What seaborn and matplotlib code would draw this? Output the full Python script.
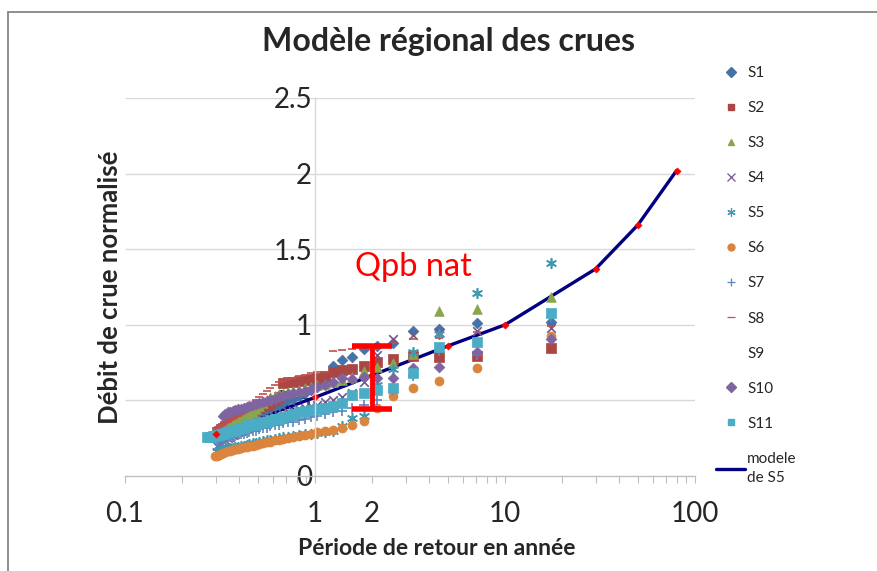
import matplotlib
matplotlib.use("Agg")
import matplotlib.pyplot as plt
import seaborn as sns
from matplotlib.lines import Line2D
from matplotlib.ticker import LogLocator, NullFormatter, FixedLocator, FixedFormatter

sns.set_theme(style="white")
plt.rcParams["font.family"] = ["Lato", "DejaVu Sans"]

# Return periods (years) of the ranked observations, shared by the stations
periods = [17.5, 7.14, 4.49, 3.27, 2.57, 2.12, 1.80, 1.57, 1.39, 1.25,
           1.13, 1.03, 0.951, 0.882, 0.822, 0.769, 0.723, 0.682, 0.646, 0.613,
           0.583, 0.556, 0.532, 0.509, 0.489, 0.470, 0.452, 0.436, 0.421, 0.406,
           0.393, 0.381, 0.369, 0.358, 0.348, 0.338, 0.329, 0.320, 0.312, 0.304,
           0.297, 0.290, 0.283, 0.277, 0.271]

s1 = [1.02, 1.014, 0.972, 0.959, 0.88, 0.86, 0.838, 0.79, 0.77, 0.73,
      0.64, 0.60, 0.57, 0.55, 0.53, 0.51, 0.50, 0.48, 0.47, 0.46,
      0.45, 0.44, 0.43, 0.42, 0.41, 0.40, 0.39, 0.38, 0.37, 0.36,
      0.35, 0.34, 0.33, 0.32, 0.31, 0.30, 0.29, 0.28, 0.27, 0.26]
s2 = [0.849, 0.794, 0.789, 0.794, 0.774, 0.756, 0.727, 0.71, 0.70, 0.69,
      0.66, 0.65, 0.64, 0.635, 0.63, 0.625, 0.62, 0.615, 0.52, 0.50,
      0.48, 0.47, 0.46, 0.45, 0.44, 0.43, 0.42, 0.41, 0.40, 0.39,
      0.38, 0.37, 0.36, 0.35, 0.34, 0.33, 0.32, 0.31, 0.30, 0.29]
s3 = [1.186, 1.102, 1.093, 0.81, 0.745, 0.72, 0.697, 0.657, 0.635, 0.624,
      0.61, 0.60, 0.59, 0.58, 0.57, 0.56, 0.555, 0.55, 0.54, 0.53,
      0.52, 0.50, 0.48, 0.46, 0.44, 0.42, 0.41, 0.40, 0.39, 0.38,
      0.37, 0.36, 0.35, 0.34, 0.33, 0.32, 0.31, 0.30, 0.29, 0.28]
s4 = [0.981, 0.959, 0.95, 0.93, 0.906, 0.80, 0.62, 0.55, 0.52, 0.50,
      0.49, 0.47, 0.46, 0.45, 0.44, 0.43, 0.42, 0.41, 0.40, 0.39,
      0.38, 0.37, 0.36, 0.35, 0.345, 0.34, 0.33, 0.32, 0.31, 0.30,
      0.29, 0.28, 0.27, 0.26, 0.25, 0.24, 0.23, 0.22, 0.21, 0.20]
s5 = [1.41, 1.208, 0.94, 0.82, 0.71, 0.60, 0.40, 0.385, 0.33, 0.30,
      0.29, 0.285, 0.28, 0.275, 0.27, 0.265, 0.26, 0.255, 0.25, 0.245,
      0.24, 0.235, 0.23, 0.225, 0.22, 0.215, 0.21, 0.205, 0.20, 0.198,
      0.195, 0.19, 0.187, 0.183, 0.18, 0.177, 0.173, 0.17, 0.167, 0.163]
s6 = [0.926, 0.712, 0.628, 0.58, 0.531, 0.45, 0.366, 0.337, 0.315, 0.305,
      0.30, 0.29, 0.28, 0.27, 0.262, 0.255, 0.25, 0.245, 0.24, 0.235,
      0.228, 0.222, 0.215, 0.21, 0.205, 0.20, 0.197, 0.193, 0.19, 0.185,
      0.18, 0.176, 0.172, 0.168, 0.163, 0.158, 0.152, 0.146, 0.14, 0.135,
      0.13]
s7 = [1.05, 0.80, 0.83, 0.66, 0.57, 0.50, 0.47, 0.45, 0.43, 0.42,
      0.41, 0.40, 0.39, 0.38, 0.37, 0.36, 0.355, 0.35, 0.34, 0.335,
      0.33, 0.32, 0.315, 0.31, 0.30, 0.295, 0.29, 0.285, 0.28, 0.275,
      0.27, 0.265, 0.26, 0.255, 0.25, 0.245, 0.24, 0.235, 0.23, 0.225]
s8 = [0.99, 0.95, 0.91, 0.904, 0.88, 0.86, 0.85, 0.838, 0.835, 0.83,
      0.69, 0.685, 0.68, 0.67, 0.66, 0.65, 0.64, 0.63, 0.62, 0.60,
      0.58, 0.56, 0.54, 0.52, 0.50, 0.48, 0.46, 0.44, 0.42, 0.41,
      0.40, 0.39, 0.38, 0.37, 0.36, 0.35, 0.34, 0.33, 0.32, 0.31]
s9 = []
s10 = [0.906, 0.822, 0.723, 0.712, 0.646, 0.65, 0.657, 0.64, 0.646, 0.624,
       0.60, 0.59, 0.575, 0.565, 0.558, 0.55, 0.54, 0.53, 0.52, 0.51,
       0.50, 0.495, 0.49, 0.48, 0.475, 0.47, 0.46, 0.455, 0.45, 0.445,
       0.44, 0.435, 0.43, 0.425, 0.42, 0.41, 0.40]
s11 = [1.076, 0.886, 0.855, 0.679, 0.58, 0.57, 0.55, 0.535, 0.48, 0.46,
       0.45, 0.44, 0.435, 0.43, 0.42, 0.41, 0.40, 0.39, 0.38, 0.375,
       0.37, 0.36, 0.355, 0.35, 0.345, 0.34, 0.335, 0.33, 0.32, 0.315,
       0.31, 0.305, 0.30, 0.295, 0.29, 0.285, 0.28, 0.275, 0.27, 0.268,
       0.265, 0.262, 0.26, 0.258, 0.255]

model_T = [0.3, 1, 5, 10, 30, 50, 80]
model_Q = [0.278, 0.52, 0.86, 1.0, 1.37, 1.66, 2.02]

qpb_T = 2
qpb_low = 0.44
qpb_high = 0.86

x_ticks = [0.1, 1, 2, 10, 100]
x_labels = ["0.1", "1", "2", "10", "100"]
y_ticks = [0, 0.5, 1, 1.5, 2, 2.5]
y_labels = ["0", "0.5", "1", "1.5", "2", "2.5"]

series = [
    ("S1", s1, "#4572A7", "D", 30, True),
    ("S2", s2, "#AA4643", "s", 44, True),
    ("S3", s3, "#89A54E", "^", 48, True),
    ("S4", s4, "#71588F", "x", 38, False),
    ("S5", s5, "#4198AF", (6, 2, 0), 48, False),
    ("S6", s6, "#DB843D", "o", 42, True),
    ("S7", s7, "#5B86C0", "+", 48, False),
    ("S8", s8, "#C0504D", "_", 40, False),
    ("S9", s9, "#B9CD96", None, 0, True),
    ("S10", s10, "#8064A2", "D", 30, True),
    ("S11", s11, "#4BACC6", "s", 44, True),
]

fig = plt.figure(figsize=(8.77, 5.71), dpi=100)
ax = fig.add_axes([125 / 877, 1 - 476 / 571, 570 / 877, 378 / 571])
ax.set_xscale("log")
ax.set_xlim(0.1, 100)
ax.set_ylim(0, 2.5)

# horizontal gridlines
ax.hlines(y_ticks[1:], 0.1, 100, colors="#D9D9D9", linewidth=1.0, zorder=0.5)

# model line (under markers)
sns.lineplot(x=model_T, y=model_Q, color="#000080", linewidth=2.4, ax=ax,
             zorder=1.8, sort=False)

for name, vals, col, mk, sz, filled in series:
    if not vals:
        continue
    xs = periods[:len(vals)]
    if filled:
        sns.scatterplot(x=xs, y=vals, marker=mk, color=col, s=sz,
                        edgecolor=col, linewidth=0.5, ax=ax, zorder=2)
    else:
        sns.scatterplot(x=xs, y=vals, marker=mk, color=col, s=sz,
                        linewidth=1.2, ax=ax, zorder=2)

sns.scatterplot(x=model_T, y=model_Q, marker="D", color="#FF0000", s=14,
                edgecolor="#FF0000", linewidth=0.3, ax=ax, zorder=2.2)

# Qpb nat bar
ax.errorbar([qpb_T], [(qpb_low + qpb_high) / 2], yerr=[[(qpb_high - qpb_low) / 2]],
            fmt="none", ecolor="#FF0000", elinewidth=3.5, capsize=14.5,
            capthick=4, zorder=5)
ax.text(1.62, 1.32, "Qpb nat", color="#FF0000", fontsize=23.5, zorder=5,
        ha="left", va="baseline")

# axes styling
for sp in ["top", "right"]:
    ax.spines[sp].set_visible(False)
ax.spines["left"].set_position(("data", 1))
ax.spines["left"].set_color("#D9D9D9")
ax.spines["bottom"].set_color("#BFBFBF")
ax.spines["left"].set_linewidth(1.0)
ax.spines["bottom"].set_linewidth(1.0)

ax.xaxis.set_major_locator(FixedLocator(x_ticks))
ax.xaxis.set_major_formatter(FixedFormatter(x_labels))
ax.xaxis.set_minor_locator(LogLocator(base=10, subs=range(2, 10)))
ax.xaxis.set_minor_formatter(NullFormatter())
ax.tick_params(axis="x", which="both", direction="out", length=5, width=0.8,
               color="#BFBFBF", bottom=True, labelsize=20, pad=13)
ax.yaxis.set_major_locator(FixedLocator(y_ticks))
ax.yaxis.set_major_formatter(FixedFormatter(y_labels))
ax.tick_params(axis="y", length=0, labelsize=20, pad=2)

ax.set_xlabel("Période de retour en année", fontsize=16.5, fontweight="bold")
ax.xaxis.set_label_coords(0.547, -0.165)
ax.set_ylabel("Débit de crue normalisé", fontsize=18.5, fontweight="bold")
ax.yaxis.set_label_coords(-0.005, 0.5)
ax.yaxis.label.set_ha("center")

fig.text(448 / 877, 1 - 42 / 571, "Modèle régional des crues", fontsize=23,
         fontweight="bold", ha="center", va="center")

# legend
handles = []
labels = []
for name, vals, col, mk, sz, filled in series:
    if mk is None:
        handles.append(Line2D([], [], linestyle="None", marker="None"))
    elif filled:
        handles.append(Line2D([], [], linestyle="None", marker=mk, color=col,
                              markersize=5, markeredgecolor=col))
    else:
        handles.append(Line2D([], [], linestyle="None", marker=mk, color=col,
                              markersize=6, markeredgewidth=0.9))
    labels.append(name)
handles.append(Line2D([], [], color="#000080", linewidth=2.4))
labels.append("modele\nde S5")
leg = fig.legend(handles, labels, loc="upper left",
                 bbox_to_anchor=(716 / 877, 1 - 66 / 571), frameon=False,
                 fontsize=11, labelspacing=1.38, handlelength=1.9,
                 handletextpad=0.15, borderpad=0, borderaxespad=0)
leg.get_texts()[-1].set_linespacing(1.5)

# chart border
fig.add_artist(Line2D([8 / 877, 8 / 877], [1 - 12 / 571, 0], color="#868686",
                      linewidth=1.3, transform=fig.transFigure))
fig.add_artist(Line2D([8 / 877, 1], [1 - 12 / 571, 1 - 12 / 571],
                      color="#868686", linewidth=1.3, transform=fig.transFigure))

fig.savefig("out.png", dpi=100)
